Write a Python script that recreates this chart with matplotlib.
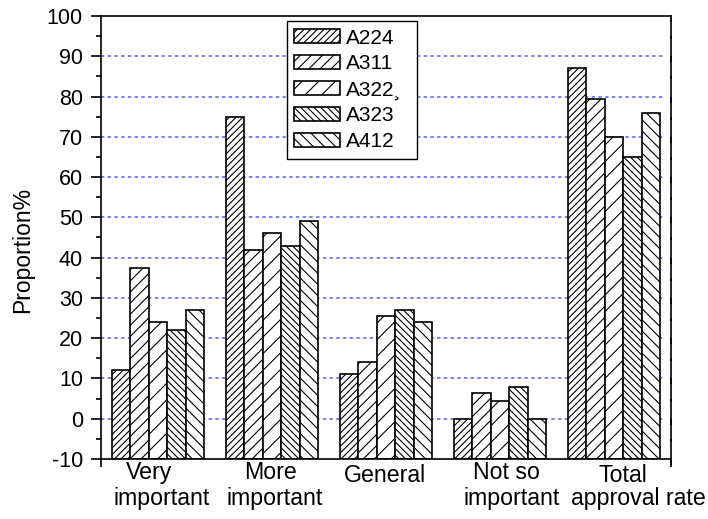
import numpy as np
import matplotlib.pyplot as plt
from matplotlib.ticker import MultipleLocator

plt.rcParams['font.family'] = ['Liberation Sans', 'DejaVu Sans']
plt.rcParams['hatch.linewidth'] = 0.8
plt.rcParams['axes.unicode_minus'] = False

categories = ['Very\nimportant', 'More\nimportant', 'General', 'Not so\nimportant', 'Total\napproval rate']
series = ['A224', 'A311', 'A322\u00b8', 'A323', 'A412']
a224 = [12, 75, 11, 0, 87]
a311 = [37.5, 42, 14, 6.5, 79.5]
a322 = [24, 46, 25.5, 4.5, 70]
a323 = [22, 43, 27, 8, 65]
a412 = [27, 49, 24, 0, 76]
values = [a224, a311, a322, a323, a412]
hatches = ['/////', '///', '//', '\\\\\\\\\\', '\\\\\\']

# horizontal nudges (px) of each label line, as placed in the original
line_shift = [(-8.5, 3.5), (-1, 2.5), (-1,), (6.5, 12), (8.5, 24)]
# baseline of the first label line below the axis (px)
first_drop = [20, 20, 23.5, 20, 22.5]

base = -10
fig = plt.figure(figsize=(7.08, 5.19), dpi=100)
ax = fig.add_axes([101 / 708, 1 - 459 / 519, 570 / 708, 443 / 519])

x = np.arange(len(categories))
w = 0.161
for i, (name, vals) in enumerate(zip(series, values)):
    pos = x + (i - 2) * w
    ax.bar(pos, np.array(vals) - base, width=w, bottom=base, color='white',
           edgecolor='black', linewidth=1.2, hatch=hatches[i], label=name, zorder=2)

# dashed blue grid behind bars
ax.hlines(np.arange(0, 100, 10), -0.5, 4.43, colors='#5a5aff', linestyles=(0, (2.2, 2.2)),
          linewidth=1.1, zorder=1)

ax.set_xlim(-0.5, 4.5)
ax.set_ylim(-10, 100)
ax.yaxis.set_major_locator(MultipleLocator(10))
ax.yaxis.set_minor_locator(MultipleLocator(5))
ax.tick_params(axis='y', which='major', direction='out', length=7, width=1.2,
               labelsize=15.5, pad=6, right=True)
ax.tick_params(axis='y', which='minor', direction='out', length=3.5, width=1.2, right=True)

# right-side ticks point inward
for t in ax.yaxis.get_major_ticks():
    t.tick2line.set_marker(3)
    t.tick2line.set_markersize(4)
for t in ax.yaxis.get_minor_ticks():
    t.tick2line.set_marker(3)
    t.tick2line.set_markersize(2.5)

ax.set_xticks([-0.5, 4.5])
ax.set_xticklabels([])
ax.tick_params(axis='x', which='major', direction='out', length=6, width=1.2)

# category labels, one text per line
for xi, label, shifts, drop in zip(x, categories, line_shift, first_drop):
    for k, (line, dx) in enumerate(zip(label.split('\n'), shifts)):
        dy = -drop if k == 0 else -46.5
        ax.annotate(line, xy=(xi, 0), xycoords=('data', 'axes fraction'),
                    xytext=(dx * 0.72, dy * 0.72), textcoords='offset points',
                    ha='center', va='baseline', fontsize=16.7, annotation_clip=False)

for s in ax.spines.values():
    s.set_linewidth(1.2)

ax.set_ylabel('Proportion%', fontsize=16.5)
ax.yaxis.set_label_coords(-0.118, 0.472)

leg = ax.legend(loc='upper left', bbox_to_anchor=(0.326, 0.988 - 0.31, 0.228, 0.31),
                mode='expand', fontsize=15,
                fancybox=False, framealpha=1, edgecolor='black', handlelength=2.2,
                handleheight=0.65, labelspacing=0.33, borderpad=0.35, handletextpad=0.3,
                borderaxespad=0)
leg.get_frame().set_linewidth(1.0)

fig.savefig('out.png', dpi=100)
